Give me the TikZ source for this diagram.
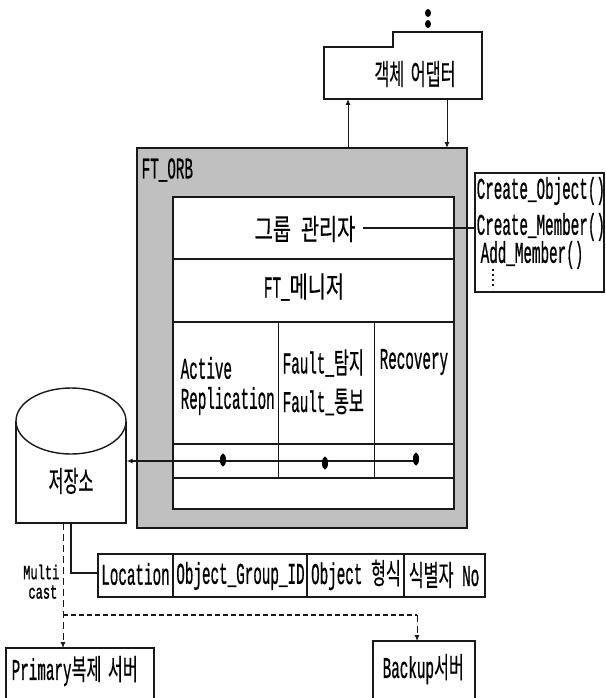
\documentclass[tikz,border=0pt]{standalone}
\usepackage{fontspec}
\usepackage{graphicx}
\setmainfont{Liberation Mono}
\newfontfamily\latf[FakeBold=1]{Liberation Mono}
\newfontfamily\korf[FakeBold=.5]{Noto Sans CJK KR}
\newfontfamily\smf[FakeBold=1.4]{Liberation Mono}
\newcommand\Tx[1]{\scalebox{.475}[1]{\fontsize{30}{30}\selectfont\latf #1}}
\newcommand\Kr[1]{\scalebox{.56}[1]{\fontsize{29}{29}\selectfont\korf #1}}
\newcommand\KrW[1]{\scalebox{.68}[1]{\fontsize{29}{29}\selectfont\korf #1}}
\newcommand\Sm[1]{\scalebox{.6}[1]{\fontsize{20}{20}\selectfont\smf #1}}
\usetikzlibrary{arrows.meta,shapes.geometric}
\definecolor{orbgray}{RGB}{192,192,192}
\definecolor{ink}{RGB}{25,25,25}
\tikzset{
  x=1pt,y=-1pt,
  every path/.style={draw=ink,line width=1.4pt},
  rect/.style={draw=ink,line width=1.4pt,fill=white,inner sep=0pt,rectangle},
  label/.style={inner sep=0pt,text=black,draw=none},
  thin line/.style={draw=ink,line width=1pt},
  arr/.style={draw=ink,line width=1pt,-{Latex[length=6pt,width=5pt]}},
  vdash line/.style={draw=ink,line width=.9pt,dash pattern=on 7pt off 4pt},
  hdash line/.style={draw=ink,line width=1.3pt,dash pattern=on 4.5pt off 3.5pt},
  dasharr/.style={vdash line,-{Latex[length=6pt,width=5pt]}},
  dotmark/.style={ellipse,draw=none,fill=black,minimum width=6pt,minimum height=13pt,inner sep=0pt},
}
\begin{document}
\begin{tikzpicture}
\useasboundingbox[draw=none] (0,0) rectangle (605,698);
% top dots
\node[dotmark,minimum height=8pt] (dot1) at (428,13) {};
\node[dotmark,minimum height=8pt] (dot2) at (428,24) {};
% object adapter
\draw[fill=white] (324,47) -- (393,47) -- (393,32) -- (482,32) -- (482,99) -- (324,99) -- cycle;
\node[inner sep=0pt,minimum width=158pt,minimum height=52pt,draw=none] (adapter) at (403,73) {};
\node[label] (adapterT) at (415,74) {\Kr{객체\hspace{.4em}어댑터}};
% ORB
\node[rect,fill=orbgray,minimum width=330pt,minimum height=380pt] (orb) at (302,338) {};
\node[label,anchor=west] (orbT) at (141,170) {\Tx{FT\_ORB}};
% inner
\node[rect,minimum width=281pt,minimum height=62pt] (group) at (313.5,228) {};
\node[rect,minimum width=281pt,minimum height=63pt] (ftm) at (313.5,290.5) {};
\node[rect,minimum width=281pt,minimum height=122pt] (mid) at (313.5,383) {};
\node[rect,minimum width=281pt,minimum height=34pt] (row) at (313.5,461) {};
\node[rect,minimum width=281pt,minimum height=31pt] (foot) at (313.5,493.5) {};
\coordinate (v1t) at (278,322); \coordinate (v1b) at (278,478);
\coordinate (v2t) at (374,322); \coordinate (v2b) at (374,478);
\draw[thin line] (v1t) -- (v1b);
\draw[thin line] (v2t) -- (v2b);
\node[label] (groupT) at (305,229) {\KrW{그룹\hspace{.5em}관리자}};
\node[label] (ftmT) at (304,287) {\Tx{FT\_}\KrW{메니저}};
\node[label,anchor=west] (activeT) at (180,368) {\Tx{Active}};
\node[label,anchor=west] (replT) at (180,401) {\Tx{Replication}};
\node[label,anchor=west] (detT) at (282,363) {\Tx{Fault\_}\Kr{탐지}};
\node[label,anchor=west] (notT) at (282,402) {\Tx{Fault\_}\Kr{통보}};
\node[label,anchor=west] (recT) at (379,362) {\Tx{Recovery}};
% methods
\node[rect,minimum width=129pt,minimum height=119pt] (methods) at (539.5,232.5) {};
\node[label,anchor=west] (m1) at (476,191) {\Tx{Create\_Object()}};
\node[label,anchor=west] (m2) at (476,227) {\Tx{Create\_Member()}};
\node[label,anchor=west] (m3) at (480,255) {\Tx{Add\_Member()}};
\coordinate (md1) at (493,269); \coordinate (md2) at (493,289);
\draw[draw=ink,line width=1.2pt,dash pattern=on 2pt off 3pt] (md1) -- (md2);
\coordinate (gl) at (363,228);
\draw[line width=1.2pt] (gl) -- (gl -| methods.west);
% arrows to adapter
\coordinate (up) at (348,148); \coordinate (upe) at (348,99);
\coordinate (dn) at (447,99); \coordinate (dne) at (447,148);
\draw[arr] (up) -- (upe);
\draw[arr] (dn) -- (dne);
% store
\draw[fill=white] (16,421) -- (16,523) -- (126,523) -- (126,421);
\draw[fill=white] (71,421) ellipse [x radius=55, y radius=33];
\node[inner sep=0pt,minimum width=110pt,minimum height=136pt,draw=none] (store) at (71,455) {};
\node[label] (storeT) at (71,481) {\Kr{저장소}};
% bus
\coordinate (bus) at (416,461);
\draw[arr,line width=1.2pt] (bus) -- (bus -| store.east);
\node[dotmark] (d1) at (223,460) {};
\node[dotmark] (d2) at (325,463) {};
\node[dotmark] (d3) at (416,459) {};
% table
\node[rect,minimum width=75pt,minimum height=43pt] (t1) at (135.5,575.5) {};
\node[rect,minimum width=134pt,minimum height=43pt] (t2) at (240,575.5) {};
\node[rect,minimum width=97pt,minimum height=43pt] (t3) at (355.5,575.5) {};
\node[rect,minimum width=81pt,minimum height=43pt] (t4) at (444.5,575.5) {};
\node[label] (t1T) at (135.5,574) {\Tx{Location}};
\node[label] (t2T) at (240.5,576) {\Tx{Object\_Group\_ID}};
\node[label] (t3T) at (356,575) {\Tx{Object }\Kr{형식}};
\node[label] (t4T) at (444,575) {\Kr{식별자}\Tx{ No}};
\coordinate (st) at (71,523); \coordinate (sc) at (71,573);
\draw[line width=1.2pt] (st) -- (sc) -- (sc -| t1.west);
% multicast
\node[label,anchor=east] (multiT) at (60,572) {\Sm{Multi}};
\node[label,anchor=east] (castT) at (58,592) {\Sm{cast}};
% servers
\coordinate (pb) at (6,698); \coordinate (pt) at (6,648); \coordinate (pr) at (154,648); \coordinate (pe) at (154,698);
\draw (pb) -- (pt) -- (pr) -- (pe);
\coordinate (bb) at (373,698); \coordinate (bt) at (373,641); \coordinate (br) at (475,641); \coordinate (be) at (475,698);
\draw (bb) -- (bt) -- (br) -- (be);
\node[label,anchor=west] (primT) at (11,671) {\Tx{Primary}\Kr{복제\hspace{.4em}서버}};
\node[label,anchor=west] (backT) at (382,669) {\Tx{Backup}\Kr{서버}};
% dashed
\coordinate (ds) at (63,523); \coordinate (de) at (63,648);
\coordinate (hl) at (63,615); \coordinate (hr) at (417,615); \coordinate (be2) at (417,641);
\draw[dasharr] (ds) -- (de);
\draw[hdash line] (hl) -- (hr);
\draw[dasharr] (hr) -- (be2);
\end{tikzpicture}
\end{document}
